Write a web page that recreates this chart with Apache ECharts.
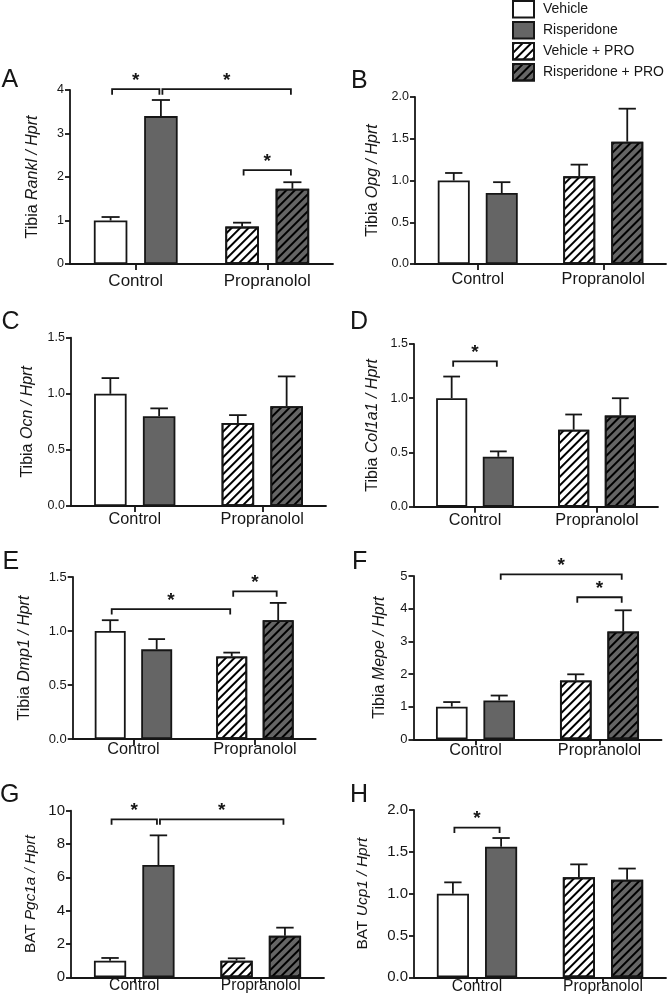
<!DOCTYPE html>
<html>
<head>
<meta charset="utf-8">
<script src="https://cdn.jsdelivr.net/npm/echarts@6/dist/echarts.min.js"></script>
<style>
html,body{margin:0;padding:0;background:#fff;}
#chart{width:667px;height:999px;}
</style>
</head>
<body>
<div id="chart"></div>
<script>
// ---------------- DATA ----------------
const categories = ['Control', 'Propranolol'];
const seriesNames = ['Vehicle', 'Risperidone', 'Vehicle + PRO', 'Risperidone + PRO'];
const panelLetters = ['A', 'B', 'C', 'D', 'E', 'F', 'G', 'H'];
const tissues = ['Tibia', 'Tibia', 'Tibia', 'Tibia', 'Tibia', 'Tibia', 'BAT', 'BAT'];
const genes = ['Rankl', 'Opg', 'Ocn', 'Col1a1', 'Dmp1', 'Mepe', 'Pgc1a', 'Ucp1'];

// means, order: Vehicle, Risperidone, Vehicle + PRO, Risperidone + PRO
const rankl  = [1.00, 3.40, 0.86, 1.73];
const opg    = [1.00, 0.85, 1.05, 1.465];
const ocn    = [1.00, 0.80, 0.74, 0.89];
const col1a1 = [1.00, 0.46, 0.71, 0.84];
const dmp1   = [1.00, 0.83, 0.765, 1.10];
const mepe   = [1.00, 1.19, 1.80, 3.30];
const pgc1a  = [1.00, 6.74, 1.00, 2.50];
const ucp1   = [1.00, 1.56, 1.195, 1.167];

// upper end of error bars (mean + SEM)
const ranklErr  = [1.08, 3.77, 0.95, 1.88];
const opgErr    = [1.09, 0.98, 1.19, 1.86];
const ocnErr    = [1.14, 0.87, 0.81, 1.155];
const col1a1Err = [1.20, 0.51, 0.85, 1.00];
const dmp1Err   = [1.10, 0.925, 0.80, 1.26];
const mepeErr   = [1.14, 1.34, 1.99, 3.95];
const pgc1aErr  = [1.16, 8.52, 1.14, 2.98];
const ucp1Err   = [1.135, 1.665, 1.35, 1.30];

// significance brackets: [fromBar, toBar, level]
const ranklSig  = [[0, 1, 4.02], [1, 3, 4.02], [2, 3, 2.16]];
const opgSig    = [];
const ocnSig    = [];
const col1a1Sig = [[0, 1, 1.34]];
const dmp1Sig   = [[0, 2, 1.203], [2, 3, 1.367]];
const mepeSig   = [[1, 3, 5.05], [2, 3, 4.35]];
const pgc1aSig  = [[0, 1, 9.48], [1, 3, 9.48]];
const ucp1Sig   = [[0, 1, 1.79]];

// y axis: max, interval, decimals of tick labels
const yMax      = [4, 2, 1.5, 1.5, 1.5, 5, 10, 2];
const yInterval = [1, 0.5, 0.5, 0.5, 0.5, 1, 2, 0.5];
const yDecimals = [0, 1, 1, 1, 1, 0, 0, 1];

const means = [rankl, opg, ocn, col1a1, dmp1, mepe, pgc1a, ucp1];
const uppers = [ranklErr, opgErr, ocnErr, col1a1Err, dmp1Err, mepeErr, pgc1aErr, ucp1Err];
const sigs = [ranklSig, opgSig, ocnSig, col1a1Sig, dmp1Sig, mepeSig, pgc1aSig, ucp1Sig];

// ---------------- LAYOUT / STYLE ----------------
const layout = [
  {left: 70,    top: 90,    width: 263, height: 174,   nameGap: 29, tickFont: 12.5, catFont: 17,   catMargin: 9, nameFont: 16,   letter: [1.5, 80]},
  {left: 415,   top: 97,    width: 251, height: 167,   nameGap: 34, tickFont: 12.5, catFont: 16.3, catMargin: 8, nameFont: 16,   letter: [351, 81]},
  {left: 71,    top: 337.7, width: 255, height: 168.3, nameGap: 35, tickFont: 12.5, catFont: 16.3, catMargin: 6, nameFont: 16,   letter: [1.5, 322]},
  {left: 414,   top: 344,   width: 244, height: 162.7, nameGap: 33, tickFont: 12.5, catFont: 16.3, catMargin: 6, nameFont: 16,   letter: [350, 322]},
  {left: 72.7,  top: 577,   width: 243, height: 162,   nameGap: 40, tickFont: 13,   catFont: 16.3, catMargin: 3, nameFont: 16,   letter: [2.5, 562]},
  {left: 413.5, top: 576,   width: 248, height: 163.3, nameGap: 25.5, tickFont: 13, catFont: 16.3, catMargin: 3, nameFont: 16,   letter: [352, 562]},
  {left: 71,    top: 810.7, width: 253, height: 166.6, nameGap: 33, tickFont: 15,   catFont: 15.6, catMargin: 0, nameFont: 15.3, letter: [0, 795.5]},
  {left: 414,   top: 810,   width: 252, height: 167.3, nameGap: 43, tickFont: 15,   catFont: 15.6, catMargin: 1, nameFont: 15.5, letter: [350, 795]}
];

const FONT = '"Liberation Sans", Arial, Helvetica, sans-serif';
const INK = '#161616';
const GREY = '#656565';
const LW = 1.8;
const BAR_W = 0.255;   // fraction of category band
const BAR_GAP = 0.5;   // fraction of bar width
const SLOT_OFF = BAR_W * (1 + BAR_GAP) / 2;

const hatch = {
  symbol: 'rect', symbolSize: 1, color: '#000',
  dashArrayX: [1, 0], dashArrayY: [1.8, 3.2], rotation: -Math.PI / 4
};
const barStyles = [
  {color: '#ffffff', borderColor: INK, borderWidth: LW},
  {color: GREY, borderColor: INK, borderWidth: LW},
  {color: '#ffffff', borderColor: INK, borderWidth: LW, decal: hatch},
  {color: GREY, borderColor: INK, borderWidth: LW, decal: hatch}
];

const grids = [], xAxes = [], yAxes = [], series = [], graphics = [];

function barX(api, bar, yVal) {
  const cat = bar < 2 ? 0 : 1;
  const slot = bar % 2;
  const pt = api.coord([cat, yVal]);
  const W = api.size([1, 0])[0];
  return [pt[0] + (slot === 0 ? -1 : 1) * W * SLOT_OFF, pt[1], W];
}

for (let p = 0; p < 8; p++) {
  const L = layout[p];
  grids.push({left: L.left, top: L.top, width: L.width, height: L.height, containLabel: false});
  xAxes.push({
    type: 'category', gridIndex: p, data: categories,
    axisLine: {show: true, lineStyle: {color: INK, width: LW}},
    axisTick: {show: true, alignWithLabel: true, length: 6, lineStyle: {color: INK, width: LW}},
    axisLabel: {color: INK, fontFamily: FONT, fontSize: L.catFont, margin: L.catMargin},
    splitLine: {show: false}
  });
  const dec = yDecimals[p];
  yAxes.push({
    type: 'value', gridIndex: p, min: 0, max: yMax[p], interval: yInterval[p],
    name: '{n|' + tissues[p] + ' }{i|' + genes[p] + ' / Hprt}',
    nameLocation: 'middle', nameGap: L.nameGap, nameRotate: 90,
    nameTextStyle: {
      color: INK, fontFamily: FONT, fontSize: L.nameFont,
      rich: {
        n: {color: INK, fontFamily: FONT, fontSize: L.nameFont},
        i: {color: INK, fontFamily: FONT, fontSize: L.nameFont, fontStyle: 'italic'}
      }
    },
    axisLine: {show: true, lineStyle: {color: INK, width: LW}},
    axisTick: {show: true, length: 5, lineStyle: {color: INK, width: LW}},
    axisLabel: {color: INK, fontFamily: FONT, fontSize: L.tickFont, margin: 6,
      formatter: v => Number(v).toFixed(dec)},
    splitLine: {show: false}
  });

  const m = means[p];
  // bars: stack L = Vehicle / Vehicle + PRO, stack R = Risperidone / Risperidone + PRO
  const barDefs = [
    {name: seriesNames[0], data: [m[0], '-'], stack: 'L' + p, style: barStyles[0]},
    {name: seriesNames[1], data: [m[1], '-'], stack: 'R' + p, style: barStyles[1]},
    {name: seriesNames[2], data: ['-', m[2]], stack: 'L' + p, style: barStyles[2]},
    {name: seriesNames[3], data: ['-', m[3]], stack: 'R' + p, style: barStyles[3]}
  ];
  barDefs.forEach(b => {
    series.push({
      type: 'bar', name: b.name, xAxisIndex: p, yAxisIndex: p, stack: b.stack,
      data: b.data, barWidth: (BAR_W * 100) + '%', barGap: (BAR_GAP * 100) + '%',
      itemStyle: b.style, emphasis: {disabled: true}, z: 2
    });
  });

  // error bars (upper half, symmetric cap)
  const errData = m.map((v, i) => [i < 2 ? 0 : 1, i, v, uppers[p][i]]);
  series.push({
    type: 'custom', xAxisIndex: p, yAxisIndex: p, z: 3, silent: true,
    encode: {x: 0, y: [2, 3]},
    data: errData,
    renderItem: (params, api) => {
      const bar = api.value(1);
      const b = barX(api, bar, api.value(2));
      const t = barX(api, bar, api.value(3));
      const half = b[2] * BAR_W * 0.27;
      const st = {stroke: INK, lineWidth: LW};
      return {type: 'group', children: [
        {type: 'line', shape: {x1: b[0], y1: b[1], x2: t[0], y2: t[1]}, style: st},
        {type: 'line', shape: {x1: t[0] - half, y1: t[1], x2: t[0] + half, y2: t[1]}, style: st}
      ]};
    }
  });

  // significance brackets
  if (sigs[p].length) {
    series.push({
      type: 'custom', xAxisIndex: p, yAxisIndex: p, z: 4, silent: true,
      encode: {x: [0, 1], y: 2},
      data: sigs[p].map(s => [s[0], s[1], s[2]]),
      renderItem: (params, api) => {
        const a = barX(api, api.value(0), api.value(2));
        const c = barX(api, api.value(1), api.value(2));
        const x1 = a[0] + 1.5, x2 = c[0] - 1.5, y = a[1], drop = 5.5;
        const st = {stroke: INK, lineWidth: LW, fill: null};
        return {type: 'group', children: [
          {type: 'polyline', shape: {points: [[x1, y + drop], [x1, y], [x2, y], [x2, y + drop]]}, style: st},
          {type: 'text', style: {text: '*', x: (x1 + x2) / 2, y: y + 1, align: 'center', verticalAlign: 'bottom',
            fill: INK, font: 'bold 19px ' + FONT}}
        ]};
      }
    });
  }

  graphics.push({
    type: 'text', x: L.letter[0], y: L.letter[1],
    style: {text: panelLetters[p], fill: INK, font: '25px ' + FONT, align: 'left', verticalAlign: 'middle'}
  });
}

const chart = echarts.init(document.getElementById('chart'), null, {renderer: 'canvas'});
chart.setOption({
  animation: false,
  backgroundColor: '#ffffff',
  textStyle: {fontFamily: FONT},
  legend: {
    data: seriesNames, orient: 'vertical', left: 512, top: 0, padding: 0,
    itemWidth: 21, itemHeight: 16.5, itemGap: 2.5, icon: 'rect',
    selectedMode: false,
    textStyle: {color: INK, fontFamily: FONT, fontSize: 14, padding: [0, 0, 0, 4]}
  },
  grid: grids, xAxis: xAxes, yAxis: yAxes, series: series, graphic: graphics
});
</script>
</body>
</html>
